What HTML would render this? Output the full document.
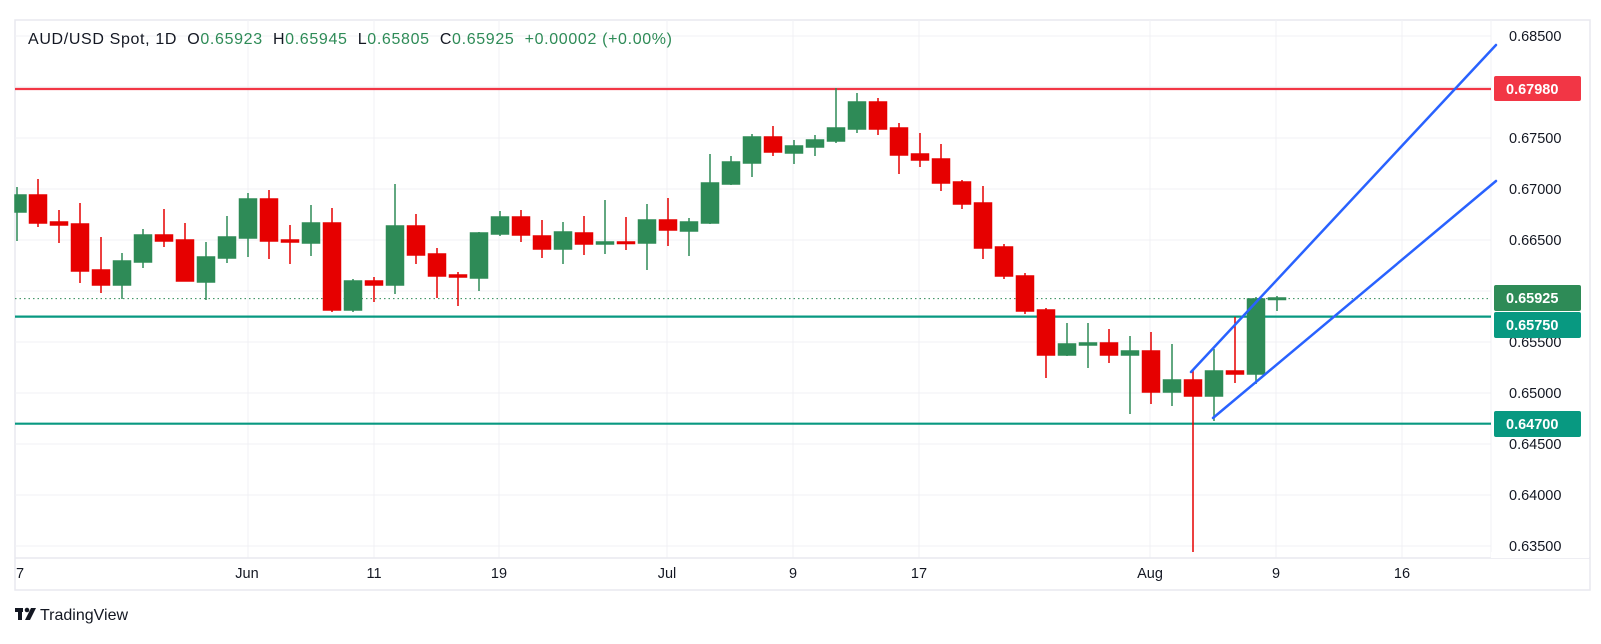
<!DOCTYPE html>
<html><head><meta charset="utf-8"><style>
html,body{margin:0;padding:0;background:#fff;width:1601px;height:644px;overflow:hidden}
svg{display:block}
text{font-family:"Liberation Sans",sans-serif}
</style></head><body>
<svg width="1601" height="644" viewBox="0 0 1601 644" xmlns="http://www.w3.org/2000/svg">
<rect x="15" y="20" width="1575" height="570" fill="#fff" stroke="#e8e9ef" stroke-width="1.5"/>
<g stroke="#f0f1f4" stroke-width="1">
<line x1="15" y1="36" x2="1491" y2="36"/><line x1="15" y1="87" x2="1491" y2="87"/><line x1="15" y1="138" x2="1491" y2="138"/><line x1="15" y1="189" x2="1491" y2="189"/><line x1="15" y1="240" x2="1491" y2="240"/><line x1="15" y1="291" x2="1491" y2="291"/><line x1="15" y1="342" x2="1491" y2="342"/><line x1="15" y1="393" x2="1491" y2="393"/><line x1="15" y1="444" x2="1491" y2="444"/><line x1="15" y1="495" x2="1491" y2="495"/><line x1="15" y1="546" x2="1491" y2="546"/>
<line x1="248" y1="20" x2="248" y2="558"/><line x1="374" y1="20" x2="374" y2="558"/><line x1="499" y1="20" x2="499" y2="558"/><line x1="667" y1="20" x2="667" y2="558"/><line x1="793" y1="20" x2="793" y2="558"/><line x1="919" y1="20" x2="919" y2="558"/><line x1="1150" y1="20" x2="1150" y2="558"/><line x1="1276" y1="20" x2="1276" y2="558"/><line x1="1402" y1="20" x2="1402" y2="558"/>
</g>
<line x1="15" y1="558" x2="1590" y2="558" stroke="#e8e9ef" stroke-width="1.5"/>
<line x1="1491" y1="20" x2="1491" y2="558" stroke="#f0f1f4" stroke-width="1"/>
<line x1="15" y1="298.6" x2="1491" y2="298.6" stroke="#2e8b57" stroke-width="1" stroke-dasharray="1.5,3"/>
<line x1="15" y1="89" x2="1491" y2="89" stroke="#f23645" stroke-width="2.2"/>
<line x1="15" y1="316.6" x2="1491" y2="316.6" stroke="#089981" stroke-width="2.2"/>
<line x1="15" y1="423.7" x2="1491" y2="423.7" stroke="#089981" stroke-width="2.2"/>
<g stroke-width="1.5">
<g stroke="#2e8b57" fill="#2e8b57">
<line x1="17" y1="187" x2="17" y2="241"/><rect x="15" y="195" width="11" height="17"/>
<line x1="122" y1="253" x2="122" y2="299"/><rect x="113.5" y="261" width="17" height="24"/>
<line x1="143" y1="229" x2="143" y2="268"/><rect x="134.5" y="235" width="17" height="27"/>
<line x1="206" y1="242" x2="206" y2="300"/><rect x="197.5" y="257" width="17" height="25"/>
<line x1="227" y1="216" x2="227" y2="263"/><rect x="218.5" y="237" width="17" height="21"/>
<line x1="248" y1="193" x2="248" y2="257"/><rect x="239.5" y="199" width="17" height="39"/>
<line x1="311" y1="205" x2="311" y2="256"/><rect x="302.5" y="223" width="17" height="20"/>
<line x1="353" y1="279" x2="353" y2="312"/><rect x="344.5" y="281" width="17" height="29"/>
<line x1="395" y1="184" x2="395" y2="294"/><rect x="386.5" y="226" width="17" height="59"/>
<line x1="479" y1="232" x2="479" y2="291"/><rect x="470.5" y="233" width="17" height="45"/>
<line x1="500" y1="211" x2="500" y2="236"/><rect x="491.5" y="217" width="17" height="17"/>
<line x1="563" y1="222" x2="563" y2="264"/><rect x="554.5" y="232" width="17" height="17"/>
<line x1="605" y1="200" x2="605" y2="254"/><rect x="596.5" y="242" width="17" height="2"/>
<line x1="647" y1="204" x2="647" y2="270"/><rect x="638.5" y="220" width="17" height="23"/>
<line x1="689" y1="218" x2="689" y2="256"/><rect x="680.5" y="222" width="17" height="9"/>
<line x1="710" y1="154" x2="710" y2="224"/><rect x="701.5" y="183" width="17" height="40"/>
<line x1="731" y1="156" x2="731" y2="185"/><rect x="722.5" y="162" width="17" height="22"/>
<line x1="752" y1="134" x2="752" y2="177"/><rect x="743.5" y="137" width="17" height="26"/>
<line x1="794" y1="140" x2="794" y2="164"/><rect x="785.5" y="146" width="17" height="7"/>
<line x1="815" y1="135" x2="815" y2="156"/><rect x="806.5" y="140" width="17" height="7"/>
<line x1="836" y1="88" x2="836" y2="143"/><rect x="827.5" y="128" width="17" height="13"/>
<line x1="857" y1="93" x2="857" y2="133"/><rect x="848.5" y="102" width="17" height="27"/>
<line x1="1067" y1="323" x2="1067" y2="356"/><rect x="1058.5" y="344" width="17" height="11"/>
<line x1="1088" y1="323" x2="1088" y2="368"/><rect x="1079.5" y="343" width="17" height="2"/>
<line x1="1130" y1="336" x2="1130" y2="414"/><rect x="1121.5" y="351" width="17" height="4"/>
<line x1="1172" y1="344" x2="1172" y2="406"/><rect x="1163.5" y="380" width="17" height="12"/>
<line x1="1214" y1="349" x2="1214" y2="421"/><rect x="1205.5" y="371" width="17" height="25"/>
<line x1="1256" y1="297" x2="1256" y2="384"/><rect x="1247.5" y="299" width="17" height="75"/>
<line x1="1277" y1="296" x2="1277" y2="311"/><rect x="1268.5" y="298" width="17" height="1.5"/>
</g>
<g stroke="#e60000" fill="#e60000">
<line x1="38" y1="179" x2="38" y2="227"/><rect x="29.5" y="195" width="17" height="28"/>
<line x1="59" y1="210" x2="59" y2="243"/><rect x="50.5" y="222" width="17" height="3"/>
<line x1="80" y1="203" x2="80" y2="283"/><rect x="71.5" y="224" width="17" height="47"/>
<line x1="101" y1="237" x2="101" y2="293"/><rect x="92.5" y="270" width="17" height="15"/>
<line x1="164" y1="209" x2="164" y2="247"/><rect x="155.5" y="235" width="17" height="6"/>
<line x1="185" y1="223" x2="185" y2="281"/><rect x="176.5" y="240" width="17" height="41"/>
<line x1="269" y1="190" x2="269" y2="259"/><rect x="260.5" y="199" width="17" height="42"/>
<line x1="290" y1="225" x2="290" y2="264"/><rect x="281.5" y="240" width="17" height="2"/>
<line x1="332" y1="208" x2="332" y2="312"/><rect x="323.5" y="223" width="17" height="87"/>
<line x1="374" y1="277" x2="374" y2="302"/><rect x="365.5" y="281" width="17" height="4"/>
<line x1="416" y1="214" x2="416" y2="264"/><rect x="407.5" y="226" width="17" height="29"/>
<line x1="437" y1="248" x2="437" y2="298"/><rect x="428.5" y="254" width="17" height="22"/>
<line x1="458" y1="272" x2="458" y2="306"/><rect x="449.5" y="275" width="17" height="2"/>
<line x1="521" y1="210" x2="521" y2="242"/><rect x="512.5" y="217" width="17" height="18"/>
<line x1="542" y1="220" x2="542" y2="258"/><rect x="533.5" y="236" width="17" height="13"/>
<line x1="584" y1="216" x2="584" y2="255"/><rect x="575.5" y="233" width="17" height="11"/>
<line x1="626" y1="217" x2="626" y2="250"/><rect x="617.5" y="242" width="17" height="1.5"/>
<line x1="668" y1="198" x2="668" y2="246"/><rect x="659.5" y="220" width="17" height="10"/>
<line x1="773" y1="126" x2="773" y2="156"/><rect x="764.5" y="137" width="17" height="15"/>
<line x1="878" y1="98" x2="878" y2="135"/><rect x="869.5" y="102" width="17" height="27"/>
<line x1="899" y1="123" x2="899" y2="174"/><rect x="890.5" y="128" width="17" height="27"/>
<line x1="920" y1="133" x2="920" y2="167"/><rect x="911.5" y="154" width="17" height="6"/>
<line x1="941" y1="144" x2="941" y2="191"/><rect x="932.5" y="159" width="17" height="24"/>
<line x1="962" y1="180" x2="962" y2="209"/><rect x="953.5" y="182" width="17" height="22"/>
<line x1="983" y1="186" x2="983" y2="259"/><rect x="974.5" y="203" width="17" height="45"/>
<line x1="1004" y1="244" x2="1004" y2="279"/><rect x="995.5" y="247" width="17" height="29"/>
<line x1="1025" y1="273" x2="1025" y2="314"/><rect x="1016.5" y="276" width="17" height="35"/>
<line x1="1046" y1="308" x2="1046" y2="378"/><rect x="1037.5" y="310" width="17" height="45"/>
<line x1="1109" y1="329" x2="1109" y2="363"/><rect x="1100.5" y="343" width="17" height="12"/>
<line x1="1151" y1="332" x2="1151" y2="404"/><rect x="1142.5" y="351" width="17" height="41"/>
<line x1="1193" y1="370" x2="1193" y2="552"/><rect x="1184.5" y="380" width="17" height="16"/>
<line x1="1235" y1="317" x2="1235" y2="383"/><rect x="1226.5" y="371" width="17" height="3"/>
</g>
</g>
<g stroke="#2962ff" stroke-width="2.5" stroke-linecap="round">
<line x1="1191" y1="372" x2="1496" y2="45"/>
<line x1="1213" y1="418" x2="1496" y2="181"/>
</g>
<g font-size="14.5" fill="#131722">
<text x="1509" y="41">0.68500</text><text x="1509" y="143">0.67500</text><text x="1509" y="194">0.67000</text><text x="1509" y="245">0.66500</text><text x="1509" y="347">0.65500</text><text x="1509" y="398">0.65000</text><text x="1509" y="449">0.64500</text><text x="1509" y="500">0.64000</text><text x="1509" y="551">0.63500</text>
</g>
<rect x="1491" y="552" width="98" height="6" fill="#fff"/>
<rect x="1494" y="76" width="87" height="25" rx="2" fill="#f23645"/>
<rect x="1494" y="285" width="87" height="26" rx="2" fill="#2e8b57"/>
<rect x="1494" y="312" width="87" height="26" rx="2" fill="#089981"/>
<rect x="1494" y="411" width="87" height="26" rx="2" fill="#089981"/>
<g font-size="14.5" fill="#fff" font-weight="bold">
<text x="1506" y="94">0.67980</text><text x="1506" y="303">0.65925</text><text x="1506" y="330">0.65750</text><text x="1506" y="429">0.64700</text>
</g>
<g font-size="14.5" fill="#131722" text-anchor="middle">
<text x="20" y="578">7</text><text x="247" y="578">Jun</text><text x="374" y="578">11</text><text x="499" y="578">19</text><text x="667" y="578">Jul</text><text x="793" y="578">9</text><text x="919" y="578">17</text><text x="1150" y="578">Aug</text><text x="1276" y="578">9</text><text x="1402" y="578">16</text>
</g>
<text x="28" y="44" font-size="16" fill="#131722" style="white-space:pre" xml:space="preserve" textLength="644" lengthAdjust="spacing">AUD/USD Spot, 1D  O<tspan fill="#2e8b57">0.65923</tspan>  H<tspan fill="#2e8b57">0.65945</tspan>  L<tspan fill="#2e8b57">0.65805</tspan>  C<tspan fill="#2e8b57">0.65925</tspan>  <tspan fill="#2e8b57">+0.00002 (+0.00%)</tspan></text>
<g fill="#131722">
<rect x="15" y="608" width="8" height="4"/><rect x="18" y="608" width="4" height="12"/><circle cx="27" cy="610" r="2.3"/><polygon points="31,608 36,608 30,620 25,620"/>
<text x="40" y="620" font-size="16">TradingView</text>
</g>
</svg>
</body></html>
